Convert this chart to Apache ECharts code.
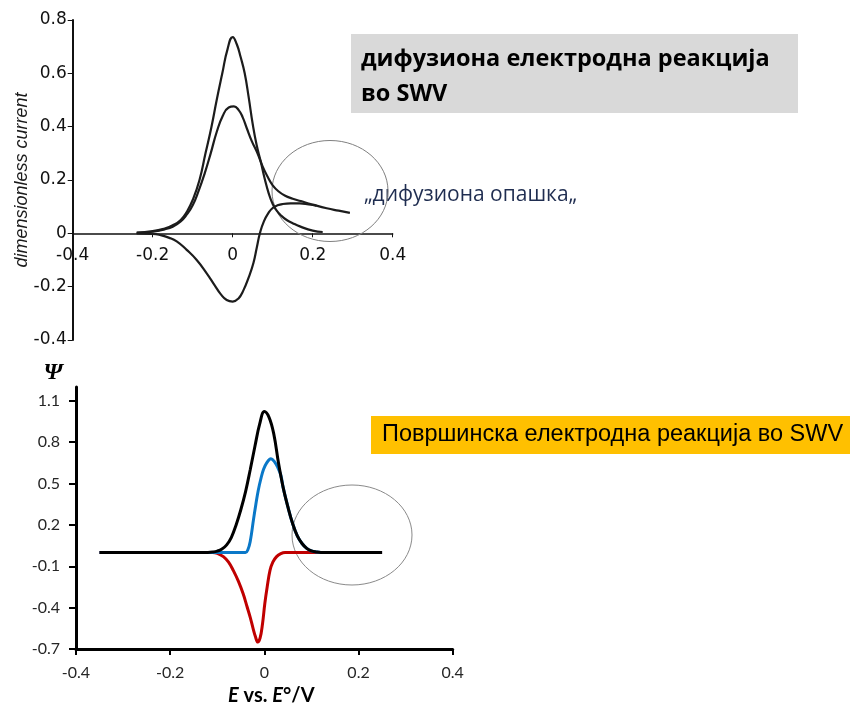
<!DOCTYPE html>
<html><head><meta charset="utf-8">
<script src="https://cdn.jsdelivr.net/npm/echarts@6/dist/echarts.min.js"></script>
<style>html,body{margin:0;padding:0;background:#fff}#c{width:854px;height:705px}</style>
</head><body><div id="c"></div>
<script>
// ---------- Top chart: diffusion electrode reaction (dimensionless current vs E) ----------
const topXTicks = [-0.4, -0.2, 0, 0.2, 0.4];
const topYTicks = [-0.4, -0.2, 0, 0.2, 0.4, 0.6, 0.8];
const topNet = [[-0.24,0.003],[-0.2,0.008],[-0.17,0.018],[-0.15,0.03],[-0.13,0.05],[-0.115,0.08],[-0.1,0.125],[-0.083,0.2],[-0.068,0.3],[-0.053,0.4],[-0.04,0.5],[-0.026,0.6],[-0.013,0.69],[0,0.736],[0.01,0.71],[0.02,0.66],[0.03,0.6],[0.04,0.51],[0.05,0.41],[0.06,0.33],[0.07,0.27],[0.08,0.205],[0.09,0.15],[0.1,0.11],[0.11,0.085],[0.12,0.068],[0.135,0.05],[0.15,0.038],[0.168,0.026],[0.2,0.01],[0.225,0.005]];
const topForward = [[-0.24,0.002],[-0.2,0.006],[-0.17,0.015],[-0.15,0.025],[-0.13,0.045],[-0.115,0.07],[-0.1,0.105],[-0.085,0.16],[-0.07,0.225],[-0.055,0.3],[-0.04,0.38],[-0.025,0.44],[-0.01,0.472],[0.003,0.476],[0.015,0.462],[0.025,0.435],[0.035,0.395],[0.048,0.345],[0.062,0.3],[0.075,0.25],[0.088,0.21],[0.1,0.18],[0.115,0.157],[0.13,0.142],[0.15,0.13],[0.17,0.121],[0.2,0.108],[0.235,0.094],[0.265,0.085],[0.293,0.077]];
const topBackward = [[-0.24,0],[-0.2,-0.002],[-0.18,-0.007],[-0.16,-0.016],[-0.14,-0.03],[-0.115,-0.062],[-0.09,-0.1],[-0.065,-0.15],[-0.045,-0.195],[-0.03,-0.228],[-0.015,-0.25],[0,-0.256],[0.014,-0.245],[0.027,-0.213],[0.04,-0.165],[0.052,-0.11],[0.06,-0.055],[0.068,0],[0.078,0.045],[0.09,0.078],[0.1,0.095],[0.112,0.105],[0.125,0.11],[0.145,0.112],[0.168,0.112],[0.19,0.108],[0.21,0.103]];

// ---------- Bottom chart: surface electrode reaction (Psi vs E) ----------
const botXTicks = [-0.4, -0.2, 0, 0.2, 0.4];
const botYTicks = [-0.7, -0.4, -0.1, 0.2, 0.5, 0.8, 1.1];
const botNet = [[-0.35,0],[-0.12,0],[-0.11,0.003],[-0.1,0.01],[-0.09,0.025],[-0.08,0.055],[-0.07,0.11],[-0.06,0.2],[-0.05,0.31],[-0.04,0.44],[-0.03,0.6],[-0.02,0.77],[-0.01,0.93],[0,1.022],[0.01,0.98],[0.02,0.86],[0.03,0.65],[0.04,0.47],[0.05,0.33],[0.06,0.21],[0.07,0.12],[0.08,0.065],[0.09,0.03],[0.1,0.012],[0.11,0.004],[0.12,0],[0.25,0]];
const botForward = [[-0.35,0],[-0.04,0],[-0.035,0.02],[-0.03,0.08],[-0.023,0.24],[-0.018,0.35],[-0.013,0.45],[-0.007,0.54],[-0.002,0.6],[0.005,0.65],[0.014,0.68],[0.022,0.655],[0.028,0.62],[0.035,0.56],[0.04,0.47],[0.05,0.33],[0.06,0.21],[0.07,0.12],[0.08,0.065],[0.09,0.03],[0.1,0.012],[0.11,0.004],[0.12,0],[0.25,0]];
const botBackward = [[-0.35,0],[-0.11,0],[-0.1,-0.006],[-0.087,-0.03],[-0.076,-0.07],[-0.066,-0.13],[-0.055,-0.21],[-0.045,-0.3],[-0.037,-0.39],[-0.03,-0.47],[-0.024,-0.55],[-0.019,-0.61],[-0.014,-0.65],[-0.009,-0.62],[-0.004,-0.52],[0.001,-0.37],[0.006,-0.25],[0.012,-0.13],[0.018,-0.07],[0.026,-0.03],[0.035,-0.008],[0.044,0],[0.25,0]];

const chart = echarts.init(document.getElementById('c'), null, {renderer: 'canvas'});
const topLabelFont = {fontFamily: 'DejaVu Sans', fontSize: 17, color: '#111'};
const botLabelFont = {fontFamily: 'Lato', fontSize: 16, color: '#262626'};

const option = {
  animation: false,
  backgroundColor: '#ffffff',
  grid: [
    {left: 72.7, top: 20, width: 320, height: 320, outerBoundsMode: 'none', containLabel: false},
    {left: 76, top: 387, width: 376.7, height: 262, outerBoundsMode: 'none', containLabel: false}
  ],
  xAxis: [
    {type: 'value', gridIndex: 0, min: -0.4, max: 0.4, splitLine: {show: false}, position: 'bottom', offset: -106.7,
     axisLine: {show: true, onZero: false, lineStyle: {color: '#111', width: 1.5}},
     axisTick: {show: true, length: 4, customValues: topXTicks, lineStyle: {color: '#111', width: 1}},
     axisLabel: Object.assign({customValues: topXTicks, margin: 14}, topLabelFont)},
    {type: 'value', gridIndex: 1, min: -0.4, max: 0.4, splitLine: {show: false},
     axisLine: {show: true, onZero: false, lineStyle: {color: '#000', width: 3}},
     axisTick: {show: true, length: 6, customValues: botXTicks, lineStyle: {color: '#000', width: 2}},
     axisLabel: Object.assign({customValues: botXTicks, margin: 16}, botLabelFont),
     name: '{i|E}{b| vs. }{i|E}{b|°/V}', nameLocation: 'middle', nameGap: 37, nameMoveOverlap: false,
     nameTextStyle: {padding: [0, 0, 0, 14], rich: {
       i: {fontFamily: 'Lato', fontSize: 20, fontWeight: 'bold', fontStyle: 'italic', color: '#000'},
       b: {fontFamily: 'Lato', fontSize: 20, fontWeight: 'bold', color: '#000'}}}}
  ],
  yAxis: [
    {type: 'value', gridIndex: 0, min: -0.4, max: 0.8, splitLine: {show: false},
     axisLine: {show: true, onZero: false, lineStyle: {color: '#111', width: 2}},
     axisTick: {show: true, length: 5, customValues: topYTicks, lineStyle: {color: '#111', width: 1}},
     axisLabel: Object.assign({customValues: topYTicks, margin: 6}, topLabelFont),
     name: 'dimensionless current', nameLocation: 'middle', nameRotate: 90, nameGap: 42, nameMoveOverlap: false,
     nameTextStyle: {fontFamily: 'Liberation Sans', fontSize: 18, fontStyle: 'italic', color: '#1a1a1a'}},
    {type: 'value', gridIndex: 1, min: -0.7, max: 1.2, splitLine: {show: false},
     axisLine: {show: true, onZero: false, lineStyle: {color: '#000', width: 3}},
     axisTick: {show: true, length: 7, customValues: botYTicks, lineStyle: {color: '#000', width: 2}},
     axisLabel: Object.assign({customValues: botYTicks, margin: 16}, botLabelFont)}
  ],
  series: [
    {type: 'line', xAxisIndex: 0, yAxisIndex: 0, data: topBackward, smooth: 0.5, showSymbol: false, lineStyle: {color: '#1c1c1c', width: 2.2}},
    {type: 'line', xAxisIndex: 0, yAxisIndex: 0, data: topForward, smooth: 0.5, showSymbol: false, lineStyle: {color: '#1c1c1c', width: 2.2}},
    {type: 'line', xAxisIndex: 0, yAxisIndex: 0, data: topNet, smooth: 0.5, showSymbol: false, lineStyle: {color: '#1c1c1c', width: 2.2}},
    {type: 'line', xAxisIndex: 1, yAxisIndex: 1, data: botBackward, smooth: 0.4, showSymbol: false, lineStyle: {color: '#c00000', width: 3}},
    {type: 'line', xAxisIndex: 1, yAxisIndex: 1, data: botForward, smooth: 0.4, showSymbol: false, lineStyle: {color: '#0a78c8', width: 3}},
    {type: 'line', xAxisIndex: 1, yAxisIndex: 1, data: botNet, smooth: 0.4, showSymbol: false, lineStyle: {color: '#000000', width: 3}}
  ],
  graphic: [
    {type: 'rect', shape: {x: 351, y: 34, width: 447, height: 79}, style: {fill: '#d9d9d9'}, z: 1},
    {type: 'text', x: 361, y: 59, style: {text: 'дифузиона електродна реакција', fontFamily: 'Open Sans', fontWeight: 'bold', fontSize: 23.5, fill: '#000', verticalAlign: 'middle'}, z: 2},
    {type: 'text', x: 361, y: 94, style: {text: 'во SWV', fontFamily: 'Open Sans', fontWeight: 'bold', fontSize: 23.5, fill: '#000', verticalAlign: 'middle'}, z: 2},
    {type: 'text', x: 364, y: 195, style: {text: '„дифузиона опашка„', fontFamily: 'Open Sans', fontSize: 21, fill: '#1f2d50', verticalAlign: 'middle'}, z: 2},
    {type: 'ellipse', shape: {cx: 330, cy: 191, rx: 58, ry: 50.5}, style: {fill: 'none', stroke: '#808080', lineWidth: 1}, z: 3},
    {type: 'rect', shape: {x: 371, y: 416, width: 479, height: 38}, style: {fill: '#ffc000'}, z: 1},
    {type: 'text', x: 382, y: 435, style: {text: 'Површинска електродна реакција во SWV', fontFamily: 'Liberation Sans', fontSize: 23.5, fill: '#000', verticalAlign: 'middle'}, z: 2},
    {type: 'ellipse', shape: {cx: 352, cy: 535, rx: 60, ry: 50}, style: {fill: 'none', stroke: '#8a8a8a', lineWidth: 1}, z: 3},
    {type: 'text', x: 53, y: 373, style: {text: 'Ψ', fontFamily: 'Liberation Serif', fontWeight: 'bold', fontStyle: 'italic', fontSize: 24, fill: '#000', align: 'center', verticalAlign: 'middle'}, z: 2}
  ]
};
chart.setOption(option);
</script>
</body></html>
